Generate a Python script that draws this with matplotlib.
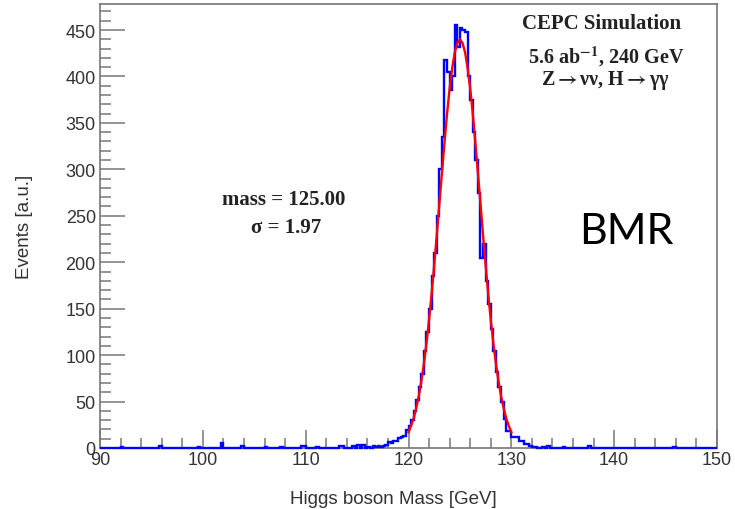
import numpy as np
import matplotlib
matplotlib.use('Agg')
from matplotlib import pyplot as plt
from matplotlib.ticker import MultipleLocator

plt.rcParams['mathtext.fontset'] = 'stix'

# histogram: 0.25 GeV bins from 90 to 150
bin_width = 0.25
x_min, x_max = 90, 150

# counts of the bins in the peak region, starting at 116.0 GeV
peak_start = 116.0
peak_counts = [1, 0, 2, 1,
               2, 1, 2, 3, 6, 5, 7, 8, 11, 12, 13, 19,
               24, 30, 40, 52, 66, 80, 104, 125, 150, 185, 210, 250,
               300, 335, 418, 405, 385, 400, 455, 432, 452, 450, 448, 400,
               375, 340, 310, 275, 205, 220, 180, 155, 128, 104, 82, 66,
               50, 31, 18, 18, 12, 12, 12, 8, 8, 4, 4, 2,
               1, 1, 0, 0, 1, 0, 1, 0]

# scattered single entries in the tails (bin left edge: count)
tail_edges = [92.0, 95.75, 99.5, 101.75, 103.75, 106.0, 107.5, 109.5, 109.75,
              111.0, 113.25, 113.5, 114.5, 115.0, 115.5, 133.5, 135.0, 137.5, 145.75]
tail_counts = [1, 2, 1, 5, 2, 1, 1, 2, 2,
               1, 2, 2, 2, 3, 3, 2, 1, 2, 1]

# gaussian fit curve
fit_mass = [120.0, 120.25, 120.5, 120.75, 121.0, 121.25, 121.5, 121.75, 122.0, 122.25,
            122.5, 122.75, 123.0, 123.25, 123.5, 123.75, 124.0, 124.25, 124.5, 124.75,
            125.0, 125.25, 125.5, 125.75, 126.0, 126.25, 126.5, 126.75, 127.0, 127.25,
            127.5, 127.75, 128.0, 128.25, 128.5, 128.75, 129.0, 129.25, 129.5, 129.75, 130.0]
fit_events = [17, 24, 32, 43, 56, 72, 91, 113, 138, 166,
              197, 229, 263, 296, 329, 360, 387, 409, 426, 436,
              440, 436, 426, 409, 387, 360, 329, 296, 263, 229,
              197, 166, 138, 113, 91, 72, 56, 43, 32, 24, 17]

edges = np.arange(x_min, x_max + bin_width / 2, bin_width)
counts = np.zeros(len(edges) - 1)
i0 = int(round((peak_start - x_min) / bin_width))
counts[i0:i0 + len(peak_counts)] = peak_counts
for e, c in zip(tail_edges, tail_counts):
    counts[int(round((e - x_min) / bin_width))] = c

fig = plt.figure(figsize=(7.35, 5.1), dpi=100)
ax = fig.add_axes([100/735, 1 - 449/510, 617/735, 444/510])

ax.stairs(counts, edges, color='blue', lw=1.7, baseline=None, zorder=3, clip_on=False)
ax.plot(fit_mass, fit_events, color='red', lw=1.7, zorder=4)

ax.set_xlim(x_min, x_max)
ax.set_ylim(0, 478)

frame = '#777777'
for s in ax.spines.values():
    s.set_color(frame)
    s.set_linewidth(1.2)

ax.xaxis.set_major_locator(MultipleLocator(10))
ax.xaxis.set_minor_locator(MultipleLocator(2))
ax.yaxis.set_major_locator(MultipleLocator(50))
ax.yaxis.set_minor_locator(MultipleLocator(10))
ax.tick_params(axis='x', which='major', direction='in', length=13, width=1.1, color=frame, pad=2)
ax.tick_params(axis='x', which='minor', direction='in', length=7, width=1.1, color=frame)
ax.tick_params(axis='y', which='major', direction='in', length=18, width=1.1, color=frame, pad=3)
ax.tick_params(axis='y', which='minor', direction='in', length=8, width=1.1, color=frame)
for lab in ax.get_xticklabels() + ax.get_yticklabels():
    lab.set_fontfamily('Liberation Sans')
    lab.set_fontsize(13)
    lab.set_color('#333333')

ax.set_xlabel('Higgs boson Mass [GeV]', family='Liberation Sans', fontsize=13.5, color='#333333')
ax.xaxis.set_label_coords(0.475, -0.095)
ax.set_ylabel('Events [a.u.]', family='Liberation Sans', fontsize=13.5, color='#333333')
ax.yaxis.set_label_coords(-0.108, 0.5)

txt = dict(family='Liberation Serif', fontweight='bold', ha='center', va='center', color='#222222')
fig.text(602/735, 1 - 24/510, 'CEPC Simulation', fontsize=15, **txt)
fig.text(606/735, 1 - 57/510, r'5.6 ab$^{\mathbf{-1}}$, 240 GeV', fontsize=14.5, **txt)
fig.text(605/735, 1 - 81/510, r'Z$\mathbf{\rightarrow}$\u03bd\u03bd, H$\mathbf{\rightarrow}$\u03b3\u03b3'
         .replace('\\u03bd', '\u03bd').replace('\\u03b3', '\u03b3'), fontsize=14.5, **txt)
fig.text(284/735, 1 - 200/510, 'mass = 125.00', fontsize=15, **txt)
fig.text(286/735, 1 - 228/510, '\u03c3 = 1.97', fontsize=15, **txt)
fig.text(626/735, 1 - 232/510, 'BMR', fontsize=31, family='Lato', ha='center', va='center', color='black')

fig.savefig('out.png', dpi=100)
